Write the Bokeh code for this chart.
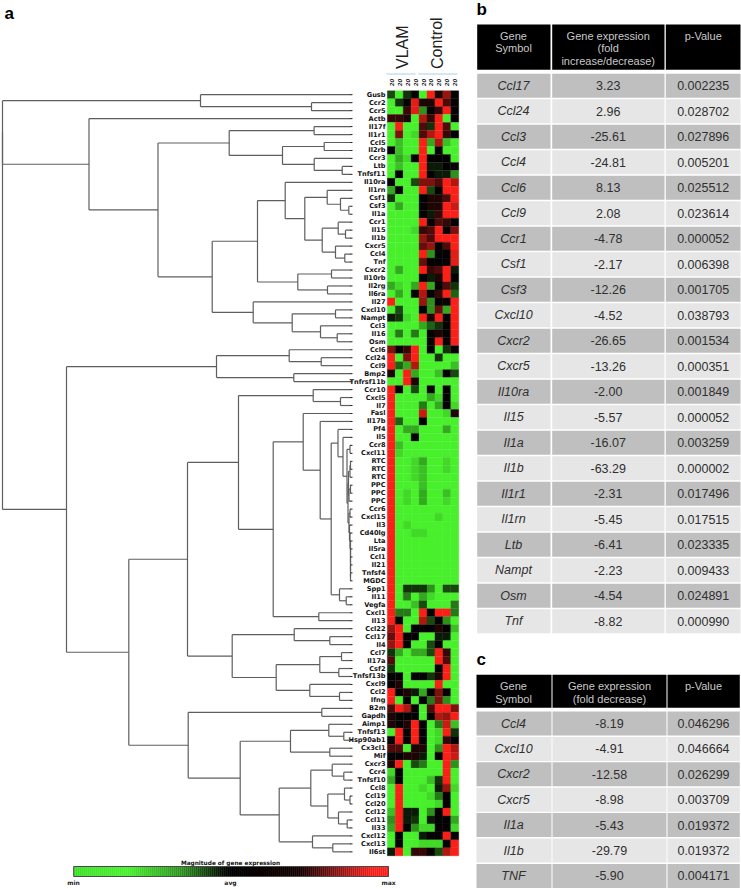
from bokeh.plotting import figure
from bokeh.models import ColumnDataSource
from bokeh.core.properties import value
from bokeh.embed import file_html
from bokeh.resources import INLINE

# ---------- data ----------
genes = ["Gusb","Ccr2","Ccr5","Actb","Il17f","Il1r1","Ccl5","Il2rb","Ccr3","Ltb","Tnfsf11","Il10ra","Il1rn","Csf1","Csf3","Il1a",
 "Ccr1","Il15","Il1b","Cxcr5","Ccl4","Tnf","Cxcr2","Il10rb","Il2rg","Il6ra","Il27","Cxcl10","Nampt","Ccl3","Il16","Osm",
 "Ccl6","Ccl24","Ccl9","Bmp2","Tnfrsf11b","Ccr10","Cxcl5","Il7","Fasl","Il17b","Pf4","Il5","Ccr8","Cxcl11","RTC","RTC","RTC",
 "PPC","PPC","PPC","Ccr6","Cxcl15","Il3","Cd40lg","Lta","Il5ra","Ccl1","Il21","Tnfsf4","MGDC","Spp1","Il11","Vegfa","Cxcl1",
 "Il13","Ccl22","Ccl17","Il4","Ccl7","Il17a","Csf2","Tnfsf13b","Cxcl9","Ccl2","Ifng","B2m","Gapdh","Aimp1","Tnfsf13","Hsp90ab1",
 "Cx3cl1","Mif","Cxcr3","Ccr4","Tnfsf10","Ccl8","Ccl19","Ccl20","Ccl12","Ccl11","Il33","Cxcl12","Cxcl13","Il6st"]

_ = -10  # fully down-regulated (saturated green)
matrix = [
[-3,_,-2,0,_,10,1,6,0],[_,-2,0,9,1,1,10,3,0],[_,_,2,9,-6,0,2,10,0],[2,2,1,_,7,2,10,_,0],[_,10,_,_,3,-2,10,3,_],
[_,5,_,-9,3,7,10,2,0],[_,-8,_,_,10,-7,7,-8,_],[0,-8,_,_,10,_,0,_,_],[_,-7,-9,0,10,0,0,0,_],[_,-8,_,_,10,-1,-1,0,0],
[_,0,_,_,10,0,-1,-1,-6],[0,_,_,-3,5,5,3,10,7],[-7,0,_,_,10,-3,0,10,10],[-2,_,_,_,0,1,1,3,10],[_,-7,_,_,0,1,1,10,8],
[_,_,_,_,0,-1,2,10,10],[_,_,_,_,10,0,3,2,0],[_,_,_,-9,2,3,10,0,5],[_,_,_,_,6,3,10,10,10],[_,_,_,_,4,6,0,3,10],
[_,_,_,_,10,-6,0,0,9],[_,_,_,_,4,0,0,0,9],[_,-7,_,_,10,2,3,10,-1],[_,_,_,_,0,-1,1,10,0],[-7,-9,_,-7,10,-7,0,3,-2],
[_,-7,_,0,7,0,2,10,-4],[10,_,_,_,6,-6,0,0,10],[_,-3,_,_,0,-6,4,-7,10],[-1,-2,-9,_,10,1,10,0,10],[_,_,_,_,-7,-4,-2,0,10],
[_,-5,_,-5,_,0,1,0,10],[_,_,_,_,_,0,10,0,10],[5,0,2,10,_,0,_,-2,0],[10,_,5,10,_,_,-2,_,_],[10,-4,-7,7,_,_,_,_,-8],
[1,_,10,-7,_,_,-8,0,-3],[_,_,10,1,_,_,_,_,_],[10,0,_,-3,_,0,_,0,_],[10,_,_,_,_,-7,-9,0,_],[10,_,_,_,-5,_,-7,0,-9],
[10,_,_,_,8,_,_,-9,1],[10,-4,_,_,0,_,_,_,_],[10,_,-7,-7,_,_,_,-7,_],[10,_,_,0,_,_,_,_,_],[10,-8,_,_,_,_,_,_,_],
[10,-9,_,_,_,_,_,_,_],[10,_,_,-9,-7,_,_,-9,_],[10,_,_,-9,-8,_,_,-9,_],[10,_,_,-9,-8,_,_,_,_],[10,_,_,_,-8,_,_,_,_],
[10,_,-9,_,-7,_,_,-8,_],[10,_,-9,_,-7,_,_,-9,_],[10,_,_,_,_,_,_,_,_],[10,_,_,_,_,_,-9,_,_],[10,_,-9,_,_,_,_,_,_],
[10,_,_,-9,-9,_,_,_,_],[10,_,_,_,_,_,_,_,_],[10,_,_,_,_,_,_,_,_],[10,_,_,_,_,_,_,_,_],[10,_,_,_,_,_,_,_,_],
[10,_,_,_,_,_,_,_,_],[10,_,_,_,_,_,_,_,_],[10,_,-2,-2,-2,-6,_,-3,-3],[10,_,-5,_,-7,-9,_,_,_],[10,_,_,-8,-3,_,_,_,-5],
[10,-5,-5,_,10,0,10,10,-5],[10,0,_,_,7,-3,0,-6,_],[6,10,_,0,0,0,1,0,-8],[4,10,0,0,_,_,-1,-1,_],[6,10,0,_,_,-3,0,_,_],
[-2,-7,_,-7,-7,-3,10,2,_],[3,_,_,_,_,_,10,3,_],[-2,_,_,_,_,_,0,10,_],[0,0,_,0,0,-2,1,10,_],[0,1,_,_,_,_,10,_,_],
[10,0,1,-1,-7,0,5,0,_],[10,_,0,_,0,-5,5,-6,_],[3,10,7,0,_,3,10,10,5],[1,0,0,0,_,0,7,6,10],[1,0,1,10,0,_,-5,8,-8],
[_,10,0,10,0,_,-9,10,-2],[0,10,0,10,0,_,-9,2,0],[3,3,_,1,1,_,-6,10,7],[0,0,1,1,-1,_,0,10,8],[1,10,_,-3,-5,_,_,10,-6],
[-9,0,_,_,_,_,_,10,_],[-7,0,_,_,_,-8,-2,10,_],[_,10,_,_,-9,_,-1,6,-9],[_,10,_,_,_,-9,-5,0,_],[_,10,_,_,_,_,-9,0,_],
[-8,10,-1,-1,_,-6,0,10,_],[-6,10,-1,-2,_,-1,0,0,-7],[-7,10,0,-6,-9,-9,0,0,-9],[_,0,_,_,-1,0,0,10,0],[_,0,_,_,-9,-9,-9,0,10],
[-1,10,_,2,2,0,-3,7,10],
]

L = "leaf"
# dendrogram: (merge position, child, child); leaves follow the gene order
tree_top = (2,(200,L,(311,L,L)),
  (88.5,L,(157.5,
    (228.7,(313.6,L,L),(282,(323.7,L,L),(313.7,L,(341.7,L,L)))),
    (211.7,
      (257,(284.7,L,(304.3,(326.7,L,(340,L,(348.3,L,L))),(321.7,(337.7,L,(345,L,L)),(335,L,(344.3,L,L))))),
           (297.3,(331,L,L),(327,L,L))),
      (252.7,L,(291.7,(335,L,L),(320,L,(336.7,L,L))))))))
tiny = (346.5,(349.5,L,L),(347.5,(348,(349.5,(350,L,L),L),(348.5,(350,L,L),L)),
        (348.5,(349.5,L,L),(349,L,(349.5,L,(350,L,(350,L,(350,L,(350,L,(350,L,L)))))))))) 
tree_low = (66,
  (216,(288.7,L,(320.7,L,L)),(293.3,L,L)),
  (128.3,
    (187,
      (238,(312.7,L,(340,L,L)),
        (272.7,(302.7,L,(319.7,L,(330.7,(337.5,L,(342.5,L,tiny)),(339,L,(345.7,L,L))))),(318.3,L,L))),
      (231.7,(293.7,L,(329.3,L,L)),
        (275.7,(319.3,(341,L,L),(338.3,L,L)),(309.3,L,(339,L,L))))),
    (187.7,(321.3,L,L),
      (239.7,(290,(328.3,L,(343.3,L,L)),(329.3,L,L)),
        (278.7,(310.3,(331.7,L,(343.3,L,L)),(327.3,(344,L,(349.5,L,L)),(338,L,(346.7,L,L)))),
               (312,L,(332.3,L,L)))))))

col_labels = ["20"]*9
group_names = ["VLAM","Control"]
scale_labels = ["min","avg","max"]
scale_title = "Magnitude of gene expression"

b_genes = ["Ccl17","Ccl24","Ccl3","Ccl4","Ccl6","Ccl9","Ccr1","Csf1","Csf3","Cxcl10","Cxcr2","Cxcr5","Il10ra","Il15","Il1a","Il1b","Il1r1","Il1rn","Ltb","Nampt","Osm","Tnf"]
b_fold = ["3.23","2.96","-25.61","-24.81","8.13","2.08","-4.78","-2.17","-12.26","-4.52","-26.65","-13.26","-2.00","-5.57","-16.07","-63.29","-2.31","-5.45","-6.41","-2.23","-4.54","-8.82"]
b_p = ["0.002235","0.028702","0.027896","0.005201","0.025512","0.023614","0.000052","0.006398","0.001705","0.038793","0.001534","0.000351","0.001849","0.000052","0.003259","0.000002","0.017496","0.017515","0.023335","0.009433","0.024891","0.000990"]
c_genes = ["Ccl4","Cxcl10","Cxcr2","Cxcr5","Il1a","Il1b","TNF"]
c_fold = ["-8.19","-4.91","-12.58","-8.98","-5.43","-29.79","-5.90"]
c_p = ["0.046296","0.046664","0.026299","0.003709","0.019372","0.019372","0.004171"]
b_header = [["Gene","Symbol"],["Gene expression","(fold","increase/decrease)"],["p-Value"]]
c_header = [["Gene","Symbol"],["Gene expression","(fold decrease)"],["p-Value"]]

# ---------- layout and style ----------
W, H = 741, 889
LINE = "#5e5e5e"
HEAT_X0, HEAT_W, HEAT_Y0, ROW_H = 386.8, 7.94, 90.2, 7.97

def lerp(a, b, t):
    return tuple(a[i] + (b[i]-a[i])*t for i in range(3))

def to_hex(c):
    return "#%02x%02x%02x" % tuple(int(round(v)) for v in c)

def heat_color(v):
    t = abs(v)/10
    return to_hex(lerp((4,2,2), (72,240,44) if v < 0 else (250,32,24), t))

p = figure(width=W, height=H, x_range=(0,W), y_range=(H,0), toolbar_location=None,
           output_backend="svg", min_border=0, outline_line_color=None,
           x_axis_location=None, y_axis_location=None, background_fill_color="white",
           border_fill_color="white")
p.grid.visible = False

# heatmap
rows = {"l":[], "r":[], "t":[], "b":[], "c":[]}
for i, row in enumerate(matrix):
    for j, v in enumerate(row):
        rows["l"].append(HEAT_X0 + j*HEAT_W); rows["r"].append(HEAT_X0 + (j+1)*HEAT_W)
        rows["t"].append(HEAT_Y0 + i*ROW_H); rows["b"].append(HEAT_Y0 + (i+1)*ROW_H)
        rows["c"].append(heat_color(v))
p.quad(left="l", right="r", top="t", bottom="b", fill_color="c", line_color="c", line_width=0.3,
       source=ColumnDataSource(rows))

# gene labels
ly = [HEAT_Y0 + (i+0.5)*ROW_H for i in range(len(genes))]
p.text(x=[385]*len(genes), y=ly, text=genes, text_font=value("DejaVu Sans"), text_font_style="bold",
       text_font_size="6.6px", text_align="right", text_baseline="middle", text_color="#111111")

# dendrogram
counter = [0]
seg = {"x0":[], "x1":[], "y0":[], "y1":[]}
def add(x0,y0,x1,y1):
    seg["x0"].append(x0); seg["y0"].append(y0); seg["x1"].append(x1); seg["y1"].append(y1)
def walk(node):
    if node == L:
        y = ly[counter[0]]
        counter[0] += 1
        return 350.5, y
    h, a, b = node
    xa, ya = walk(a)
    xb, yb = walk(b)
    add(h, ya, xa, ya); add(h, yb, xb, yb); add(h, ya, h, yb)
    return h, (ya+yb)/2
xt, yt = walk(tree_top)
xl, yl = walk(tree_low)
add(2, yt, 2, yl); add(2, yl, xl, yl)
p.segment(x0="x0", y0="y0", x1="x1", y1="y1", line_color=LINE, line_width=1.2, source=ColumnDataSource(seg))
# leaf ticks
p.segment(x0=[350]*len(ly), y0=ly, x1=[352]*len(ly), y1=ly, line_color="#222222", line_width=1)

# column labels, groups
p.text(x=[HEAT_X0+(j+0.5)*HEAT_W for j in range(9)], y=[82]*9, text=col_labels, angle=1.5708,
       text_font=value("DejaVu Sans"), text_font_style="bold italic", text_font_size="5.5px",
       text_align="center", text_baseline="middle", text_color="#333333")
p.text(x=[402,436.5], y=[68.5,68.5], text=group_names, angle=1.5708, text_font=value("Liberation Sans"),
       text_font_size="16px", text_align="left", text_baseline="middle", text_color="#222222")
p.segment(x0=[386,418], x1=[415,457], y0=[73.5,73.5], y1=[73.5,73.5], line_color="#a9d2ea", line_width=1.2)

# colour scale
stops = [(0,(60,225,40)),(0.17,(72,240,44)),(0.34,(45,150,30)),(0.47,(6,20,6)),(0.5,(0,0,0)),
         (0.72,(20,0,0)),(0.85,(150,20,20)),(0.95,(250,32,24)),(1,(250,32,24))]
n = 158
cb = {"l":[], "r":[], "c":[]}
CB_X0, CB_X1 = 73.2, 388
for k in range(n):
    t = (k+0.5)/n
    for (a,ca),(b,cb_) in zip(stops, stops[1:]):
        if a <= t <= b:
            cb["c"].append(to_hex(lerp(ca, cb_, (t-a)/(b-a))))
            break
    cb["l"].append(CB_X0 + (CB_X1-CB_X0)*k/n); cb["r"].append(CB_X0 + (CB_X1-CB_X0)*(k+1)/n)
p.quad(left="l", right="r", top=866, bottom=876, fill_color="c", line_color="c", line_width=0.3, source=ColumnDataSource(cb))
p.quad(left=[CB_X0], right=[CB_X1], top=[866], bottom=[876], fill_color=None, line_color="#4a4a4a", line_width=1)
p.text(x=[230], y=[862], text=[scale_title], text_font=value("DejaVu Sans"), text_font_style="bold",
       text_font_size="5.8px", text_align="center", text_baseline="middle", text_color="#111111")
p.text(x=[73,230,388], y=[882,882,882], text=scale_labels, text_font=value("DejaVu Sans"), text_font_style="bold",
       text_font_size="6px", text_align="center", text_baseline="middle", text_color="#222222")

# panel letters
p.text(x=[4,476,476], y=[13,9,659], text=["a","b","c"], text_font=value("Liberation Sans"), text_font_style="bold",
       text_font_size="17px", text_align="left", text_baseline="middle", text_color="#000000")

# tables
def table(cols, head_top, head_bot, head_lines, row_top, pitch, row_h, headers, columns, centers):
    for (l,r) in cols:
        p.quad(left=[l], right=[r], top=[head_top], bottom=[head_bot], fill_color="#000000", line_color=None)
    for cx, lines, yys in zip(centers, headers, head_lines):
        p.text(x=[cx]*len(lines), y=yys[:len(lines)], text=lines, text_font=value("Liberation Sans"),
               text_font_size="11px", text_align="center", text_baseline="middle", text_color="#c8c8c8")
    nrow = len(columns[0])
    for i in range(nrow):
        fill = "#bfbfbf" if i % 2 == 0 else "#e6e6e6"
        for (l,r) in cols:
            p.quad(left=[l], right=[r], top=[row_top+i*pitch], bottom=[row_top+i*pitch+row_h], fill_color=fill, line_color=None)
    ys = [row_top+i*pitch+row_h/2 for i in range(nrow)]
    for c, (cx, col) in enumerate(zip(centers, columns)):
        p.text(x=[cx]*nrow, y=ys, text=col, text_font=value("Liberation Sans"),
               text_font_style="italic" if c == 0 else "normal", text_font_size="12.5px",
               text_align="center", text_baseline="middle", text_color="#303030")

table([(476.7,550),(551.7,664),(665.3,740)], 24, 69.3, [[35,47.7],[35,47.7,60.7],[35]], 73.3, 25.5, 24,
      b_header, [b_genes,b_fold,b_p], [513,607.7,702.7])
table([(476,551),(552,666),(667,739.3)], 674.3, 707.3, [[685.3,698.3],[685.3,698.3],[685.3]], 711, 25.4, 24,
      c_header, [c_genes,c_fold,c_p], [513,609,703])

open("out.html", "w").write(file_html(p, INLINE))
